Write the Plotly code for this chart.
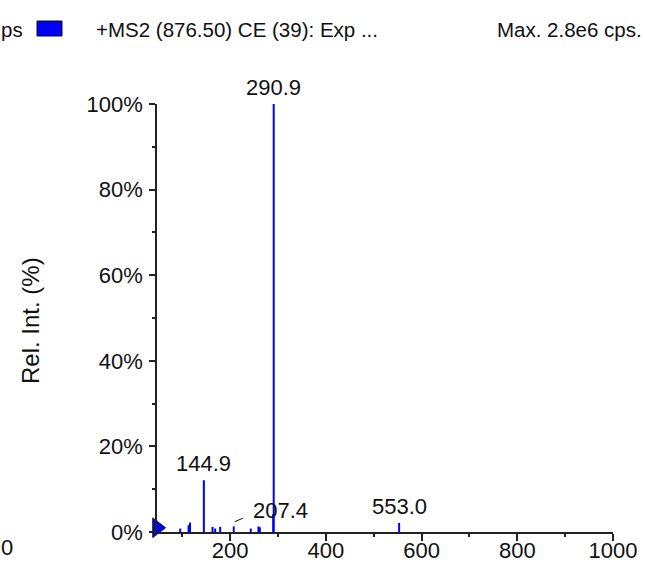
import plotly.graph_objects as go

# MS2 product-ion spectrum: m/z and relative intensity (%)
mz = [95.5, 113.0, 116.0, 144.9, 163.0, 168.6, 179.0, 207.4, 243.0,
      259.0, 262.0, 289.9, 290.9, 553.0]
rel_int = [0.8, 1.6, 2.2, 12.1, 1.2, 0.8, 1.2, 1.3, 0.8,
           1.3, 1.1, 4.2, 100.0, 2.1]
top_labels = [144.9, 290.9, 553.0]
leader_label = 207.4

x_ticks = [200, 400, 600, 800, 1000]
y_ticks = [0, 20, 40, 60, 80, 100]
y_tick_text = [f"{v}%" for v in y_ticks]
x_range = [47, 1000]
y_range = [0, 100]

W, H = 645, 563
ML, MR, MT, MB = 157, 32, 104, 31
PW, PH = W - ML - MR, H - MT - MB
FONT = "Liberation Sans, Arial, sans-serif"
BLUE = "#0000ff"


def px(xp):
    return (xp - ML) / PW


def py(yp):
    return (H - MB - yp) / PH


# stick spectrum
xs, ys = [], []
for m, h in zip(mz, rel_int):
    xs += [m, m, None]
    ys += [0, h, None]

fig = go.Figure()
fig.add_trace(go.Scatter(x=xs, y=ys, mode="lines",
                         line=dict(color=BLUE, width=2),
                         hoverinfo="skip", showlegend=False))

# precursor marker at the left end of the baseline
fig.add_trace(go.Scatter(x=[x_range[0]], y=[1], mode="markers",
                         marker=dict(symbol="triangle-right", size=17, color=BLUE,
                                     line=dict(color="#111", width=1)),
                         cliponaxis=False, hoverinfo="skip", showlegend=False))

annotations = []
shapes = []
for m, h in zip(mz, rel_int):
    if m in top_labels:
        annotations.append(dict(x=m, y=h, xref="x", yref="y", text=f"{m:.1f}",
                                showarrow=False, yanchor="bottom", yshift=2,
                                font=dict(family=FONT, size=22, color="#111")))
    elif m == leader_label:
        x0, y0, x1, y1 = m + 2, h + 1.1, m + 35, h + 2.7
        shapes.append(dict(type="line", xref="x", yref="y", x0=x0, y0=y0, x1=x1, y1=y1,
                           line=dict(color="#111", width=1, dash="dash")))
        annotations.append(dict(x=x1, y=y1 + 1.1, xref="x", yref="y", text=f"{m:.1f}",
                                showarrow=False, xanchor="left", yanchor="middle",
                                font=dict(family=FONT, size=22, color="#111")))

# y-axis title
annotations.append(dict(x=px(30), y=py(321), xref="paper", yref="paper",
                        text="Rel. Int. (%)", textangle=-90, showarrow=False,
                        xanchor="center", yanchor="middle",
                        font=dict(family=FONT, size=24, color="#111")))

# header line
annotations.append(dict(x=px(94), y=py(30), xref="paper", yref="paper",
                        text="+MS2 (876.50) CE (39): Exp ...", showarrow=False,
                        xanchor="left", yanchor="middle",
                        font=dict(family=FONT, size=20.5, color="#111")))
annotations.append(dict(x=px(644), y=py(30), xref="paper", yref="paper",
                        text="Max. 2.8e6 cps.", showarrow=False,
                        xanchor="right", yanchor="middle",
                        font=dict(family=FONT, size=20.5, color="#111")))
annotations.append(dict(x=px(-1), y=py(30), xref="paper", yref="paper",
                        text="ps", showarrow=False,
                        xanchor="left", yanchor="middle",
                        font=dict(family=FONT, size=20.5, color="#111")))
annotations.append(dict(x=px(-1), y=py(547), xref="paper", yref="paper",
                        text="0", showarrow=False,
                        xanchor="left", yanchor="middle",
                        font=dict(family=FONT, size=22, color="#111")))

# legend swatch
shapes.append(dict(type="rect", xref="paper", yref="paper",
                   x0=px(37), x1=px(62), y0=py(36), y1=py(21),
                   fillcolor=BLUE, line=dict(color="#111", width=1)))

fig.update_layout(
    width=W, height=H,
    margin=dict(l=ML, r=MR, t=MT, b=MB, autoexpand=False),
    paper_bgcolor="white", plot_bgcolor="white",
    font=dict(family=FONT, size=22, color="#111"),
    annotations=annotations, shapes=shapes,
    xaxis=dict(range=x_range, tickvals=x_ticks, ticks="outside", ticklen=7,
               tickwidth=1.5, tickcolor="#222", showline=True, linecolor="#222",
               linewidth=1.5, showgrid=False, zeroline=False, automargin=False,
               ticklabelstandoff=-9,
               minor=dict(dtick=100, tick0=0, ticks="outside", ticklen=3,
                          tickcolor="#222", tickwidth=1.5),
               tickfont=dict(family=FONT, size=22, color="#111")),
    yaxis=dict(range=y_range, tickvals=y_ticks, ticktext=y_tick_text, ticks="outside",
               ticklen=6, tickwidth=1.5, tickcolor="#222", showline=True,
               linecolor="#222", linewidth=1.5, showgrid=False, zeroline=False,
               automargin=False, ticklabelstandoff=2,
               minor=dict(dtick=10, tick0=0, ticks="outside", ticklen=3,
                          tickcolor="#222", tickwidth=1.5),
               tickfont=dict(family=FONT, size=22, color="#111")),
)

fig.write_html("out.html")
